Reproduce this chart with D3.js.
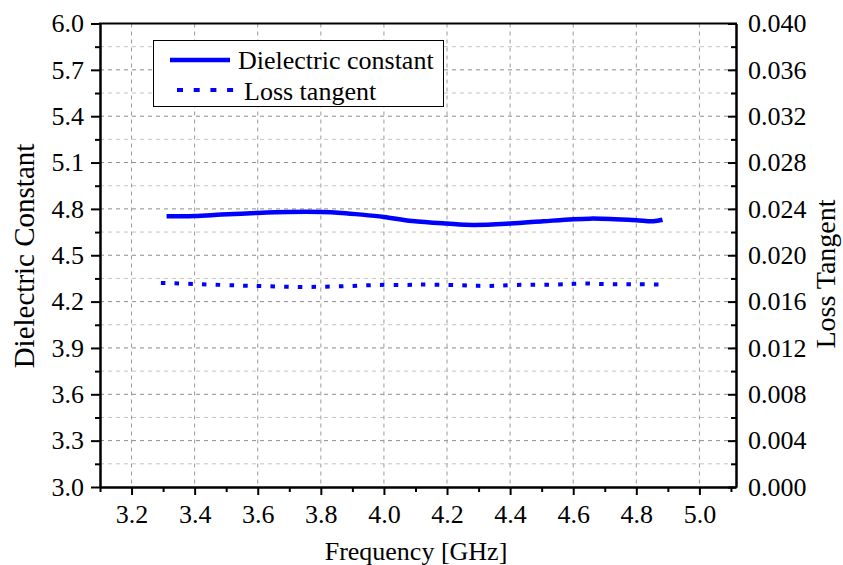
<!DOCTYPE html>
<html>
<head>
<meta charset="utf-8">
<script src="https://cdnjs.cloudflare.com/ajax/libs/d3/7.8.5/d3.min.js"></script>
<style>
  body { margin: 0; background: #fff; }
  text { font-family: "Liberation Serif", "Times New Roman", serif; fill: #000; }
</style>
</head>
<body>
<script>
var width = 843;
var height = 565;
var plotLeft = 100, plotRight = 736, plotTop = 23.5, plotBottom = 487;

// dielectric constant
var freqDk = [3.311, 3.40, 3.485, 3.60, 3.697, 3.80, 3.866, 3.93, 4.00, 4.09, 4.20, 4.283, 4.40, 4.505, 4.60, 4.653, 4.717, 4.80, 4.854, 4.883];
var dk = [4.752, 4.754, 4.763, 4.774, 4.780, 4.780, 4.774, 4.763, 4.748, 4.722, 4.705, 4.696, 4.705, 4.720, 4.733, 4.737, 4.735, 4.727, 4.720, 4.730];

// loss tangent
var freqTan = [3.293, 3.422, 3.549, 3.64, 3.728, 3.813, 3.898, 3.982, 4.072, 4.114, 4.241, 4.331, 4.421, 4.548, 4.632, 4.717, 4.80, 4.894];
var lossTan = [0.01761, 0.01750, 0.01738, 0.01732, 0.01726, 0.01729, 0.01735, 0.01744, 0.01744, 0.01747, 0.01741, 0.01735, 0.01744, 0.01747, 0.01756, 0.01750, 0.01750, 0.01747];

var xTicks = [3.2, 3.4, 3.6, 3.8, 4.0, 4.2, 4.4, 4.6, 4.8, 5.0];
var xMinor = [3.1, 3.3, 3.5, 3.7, 3.9, 4.1, 4.3, 4.5, 4.7, 4.9, 5.1];
var yTicks = [3.0, 3.3, 3.6, 3.9, 4.2, 4.5, 4.8, 5.1, 5.4, 5.7, 6.0];
var yMinor = [3.15, 3.45, 3.75, 4.05, 4.35, 4.65, 4.95, 5.25, 5.55, 5.85];
var y2Ticks = [0, 0.004, 0.008, 0.012, 0.016, 0.020, 0.024, 0.028, 0.032, 0.036, 0.040];
var y2Minor = [0.002, 0.006, 0.010, 0.014, 0.018, 0.022, 0.026, 0.030, 0.034, 0.038];

var legendNames = ["Dielectric constant", "Loss tangent"];

var x = d3.scaleLinear().domain([3.1, 5.116]).range([plotLeft, plotRight]);
var y = d3.scaleLinear().domain([3.0, 6.0]).range([plotBottom, plotTop]);
var y2 = d3.scaleLinear().domain([0, 0.04]).range([plotBottom, plotTop]);

var svg = d3.select("body")
            .append("svg")
            .attr("width", width)
            .attr("height", height);

// grid
svg.append("g").selectAll("line")
  .data(yMinor)
  .enter().append("line")
  .attr("x1", plotLeft).attr("x2", plotRight)
  .attr("y1", function(d) { return y(d); })
  .attr("y2", function(d) { return y(d); })
  .attr("stroke", "#c4c4c4").attr("stroke-width", 1).attr("stroke-dasharray", "4,4");

svg.append("g").selectAll("line")
  .data(yTicks.slice(1, -1))
  .enter().append("line")
  .attr("x1", plotLeft).attr("x2", plotRight)
  .attr("y1", function(d) { return y(d); })
  .attr("y2", function(d) { return y(d); })
  .attr("stroke", "#8c8c8c").attr("stroke-width", 1).attr("stroke-dasharray", "4,4");

svg.append("g").selectAll("line")
  .data(xTicks)
  .enter().append("line")
  .attr("y1", plotTop).attr("y2", plotBottom)
  .attr("x1", function(d) { return x(d); })
  .attr("x2", function(d) { return x(d); })
  .attr("stroke", "#9a9a9a").attr("stroke-width", 1).attr("stroke-dasharray", "4,4");

// axes
var styleAxis = function(g) {
  g.selectAll("path.domain").attr("stroke", "#000").attr("stroke-width", 2);
  g.selectAll(".tick line").attr("stroke", "#000").attr("stroke-width", 2);
  g.selectAll("text").style("font-size", "26px").attr("fill", "#000");
};

svg.append("g")
  .attr("transform", "translate(0," + plotBottom + ")")
  .call(d3.axisBottom(x).tickValues(xMinor).tickSize(5).tickSizeOuter(0).tickFormat(""))
  .call(styleAxis);
svg.append("g")
  .attr("transform", "translate(0," + plotBottom + ")")
  .call(d3.axisBottom(x).tickValues(xTicks).tickSize(8).tickSizeOuter(0).tickPadding(10).tickFormat(d3.format(".1f")))
  .call(styleAxis);

svg.append("g")
  .attr("transform", "translate(" + plotLeft + ",0)")
  .call(d3.axisLeft(y).tickValues(yMinor).tickSize(5).tickSizeOuter(0).tickFormat(""))
  .call(styleAxis);
svg.append("g")
  .attr("transform", "translate(" + plotLeft + ",0)")
  .call(d3.axisLeft(y).tickValues(yTicks).tickSize(9).tickSizeOuter(0).tickPadding(7).tickFormat(d3.format(".1f")))
  .call(styleAxis);

svg.append("g")
  .attr("transform", "translate(" + plotRight + ",0)")
  .call(d3.axisLeft(y2).tickValues(y2Minor).tickSize(5).tickSizeOuter(0).tickFormat(""))
  .call(styleAxis);
var rAxis = svg.append("g")
  .attr("transform", "translate(" + plotRight + ",0)")
  .call(d3.axisLeft(y2).tickValues(y2Ticks).tickSize(8).tickSizeOuter(0).tickFormat(d3.format(".3f")))
  .call(styleAxis);
rAxis.selectAll("text").attr("x", 12).attr("text-anchor", "start");

svg.append("line")
  .attr("x1", plotLeft - 1).attr("x2", plotRight + 1)
  .attr("y1", plotTop).attr("y2", plotTop)
  .attr("stroke", "#000").attr("stroke-width", 2);

// lines
var lineDk = d3.line()
  .x(function(d, i) { return x(freqDk[i]); })
  .y(function(d) { return y(d); })
  .curve(d3.curveCatmullRom);

var lineTan = d3.line()
  .x(function(d, i) { return x(freqTan[i]); })
  .y(function(d) { return y2(d); })
  .curve(d3.curveCatmullRom);

svg.append("path")
  .attr("d", lineDk(dk))
  .attr("fill", "none")
  .attr("stroke", "#0000ff")
  .attr("stroke-width", 4.5);

svg.append("path")
  .attr("d", lineTan(lossTan))
  .attr("fill", "none")
  .attr("stroke", "#0000ff")
  .attr("stroke-width", 4)
  .attr("stroke-dasharray", "4.5,9.2");

// legend
svg.append("rect")
  .attr("x", 153.5).attr("y", 40.5)
  .attr("width", 290).attr("height", 66)
  .attr("fill", "#fff").attr("stroke", "#000").attr("stroke-width", 1);

svg.append("line")
  .attr("x1", 170).attr("x2", 230).attr("y1", 60).attr("y2", 60)
  .attr("stroke", "#0000ff").attr("stroke-width", 4.5);
svg.append("line")
  .attr("x1", 177).attr("x2", 237).attr("y1", 90).attr("y2", 90)
  .attr("stroke", "#0000ff").attr("stroke-width", 4).attr("stroke-dasharray", "6,10.7");

svg.append("text").attr("x", 238).attr("y", 68.5).style("font-size", "26px").text(legendNames[0]);
svg.append("text").attr("x", 244).attr("y", 99.5).style("font-size", "26px").text(legendNames[1]);

// titles
svg.append("text")
  .attr("x", (plotLeft + plotRight) / 2 - 2).attr("y", 560)
  .attr("text-anchor", "middle")
  .style("font-size", "26px")
  .text("Frequency [GHz]");

svg.append("text")
  .attr("transform", "translate(34,256) rotate(-90)")
  .attr("text-anchor", "middle")
  .style("font-size", "29px")
  .text("Dielectric Constant");

svg.append("text")
  .attr("transform", "translate(835,274) rotate(-90)")
  .attr("text-anchor", "middle")
  .style("font-size", "28px")
  .text("Loss Tangent");
</script>
</body>
</html>
